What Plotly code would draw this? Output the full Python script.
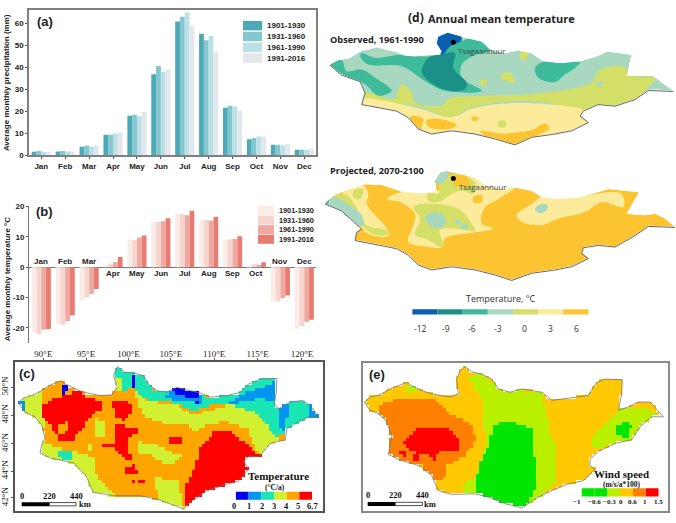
import numpy as np
import plotly.graph_objects as go

W, H = 676, 523
months = ["Jan","Feb","Mar","Apr","May","Jun","Jul","Aug","Sep","Oct","Nov","Dec"]
periods = ["1901-1930","1931-1960","1961-1990","1991-2016"]
precip_1901 = [1.6,1.8,3.9,9.3,18.0,36.8,60.7,55.2,21.6,7.3,4.8,2.5]
precip_1931 = [2.0,2.0,4.5,9.4,18.4,40.5,62.9,52.2,22.5,7.9,4.8,2.5]
precip_1961 = [1.6,1.7,4.0,9.9,17.7,37.8,64.8,54.3,22.2,8.5,4.5,2.5]
precip_1991 = [1.5,1.8,4.5,10.4,19.8,39.0,58.7,47.0,20.3,8.4,5.1,3.0]
temp_1901 = [-21.5,-18.7,-10.8,0.7,9.2,15.0,17.6,15.6,9.0,0.3,-11.5,-20.3]
temp_1931 = [-22.0,-19.0,-10.0,1.2,8.9,15.0,17.5,15.6,9.2,1.0,-11.3,-19.4]
temp_1961 = [-20.6,-17.8,-8.8,1.7,9.8,15.1,17.1,15.4,9.3,0.8,-10.2,-18.0]
temp_1991 = [-20.4,-15.9,-7.2,3.4,10.4,16.1,18.6,16.6,10.2,1.6,-9.3,-17.3]
precip_colors = ["#4BA9B8","#85C6CF","#BBE0E6","#E1E7EB"]
temp_colors = ["#FBECE8","#F6D5D0","#F0A9A1","#E87C72"]

# ---- map (c) temperature trend: outline and class regions, in map units
c_outline = [(55,183),(70,168),(95,160),(120,148),(150,128),(185,115),(195,125),(225,140),(250,150),(300,160),(335,158),(352,135),(340,100),(352,72),(375,90),(405,92),(430,100),(445,125),(470,145),(500,150),(530,135),(570,145),(600,152),(630,165),(680,160),(720,150),(745,125),(780,110),(830,108),(828,150),(822,185),(835,200),(870,180),(905,175),(930,190),(955,225),(925,225),(895,240),(860,260),(855,295),(810,305),(778,345),(745,345),(730,360),(745,385),(715,420),(680,430),(620,450),(570,485),(550,505),(510,490),(470,475),(420,465),(340,465),(280,455),(258,405),(220,365),(150,350),(120,335),(125,310),(135,290),(125,250),(105,225),(75,210),(55,183)]
c_class3 = [
 [(120,290),(150,310),(170,320),(210,325),(240,335),(280,345),(290,400),(330,450),(370,475),(270,475),(110,350)],
 [(470,410),(530,420),(555,510),(480,490),(470,450)],
 [(420,300),(470,310),(510,330),(550,340),(520,370),(480,360),(450,340),(420,340)],
 [(400,135),(440,180),(520,185),(570,215),(630,210),(690,185),(770,210),(800,250),(830,290),(860,300),(778,345),(740,260),(680,240),(620,245),(590,270),(560,250),(470,240),(425,215)],
 [(65,165),(125,150),(130,165),(125,200),(140,260),(120,250),(80,215)],
 [(285,225),(310,240),(315,290),(290,290)],
 [(270,305),(280,305),(280,325),(270,325)],
 [(350,105),(365,105),(365,145),(350,145)],
]
c_class2 = [
 [(330,100),(360,65),(430,90),(460,150),(500,145),(640,165),(640,185),(580,210),(530,185),(470,175),(430,170),(400,140),(370,145),(368,105),(345,105),(345,130)],
 [(640,165),(680,155),(720,145),(745,120),(780,105),(835,105),(825,190),(870,175),(905,170),(960,225),(925,230),(860,265),(830,290),(800,250),(760,210),(700,190),(640,185)],
 [(180,325),(215,325),(220,350),(195,365),(180,350)],
]
c_class1 = [
 [(500,155),(520,135),(605,150),(600,185),(540,175),(500,170)],
 [(680,185),(740,150),(800,130),(835,105),(825,180),(790,170),(740,175),(680,190)],
 [(830,190),(870,180),(860,230),(855,270),(835,250)],
 [(925,190),(945,195),(960,230),(925,222)],
 [(50,183),(75,170),(78,205),(60,205)],
]
c_class0 = [
 [(392,100),(408,100),(405,140),(392,135)],
 [(520,130),(550,130),(605,152),(585,172),(550,160),(520,150)],
 [(182,135),(205,122),(205,150),(185,155)],
 [(205,188),(220,188),(220,200),(205,200)],
 [(165,235),(180,228),(175,245),(165,250)],
 [(590,178),(600,178),(598,190),(590,190)],
]
c_class5 = [
 [(130,190),(170,165),(200,160),(235,140),(260,165),(310,180),(300,205),(270,225),(245,260),(220,295),(185,300),(155,255),(130,225)],
 [(335,175),(385,172),(400,210),(375,235),(345,220)],
 [(345,250),(415,255),(415,275),(385,285),(380,310),(395,355),(375,355),(340,320),(305,320),(310,308),(340,305)],
 [(510,283),(545,285),(545,312),(510,305)],
 [(375,380),(400,370),(420,395),(375,395)],
 [(398,420),(408,420),(408,430),(398,430)],
 [(413,420),(423,420),(423,430),(413,430)],
 [(428,420),(438,420),(438,430),(428,430)],
 [(555,495),(555,440),(590,360),(600,320),(640,270),(690,265),(740,310),(785,345),(745,345),(730,360),(750,385),(715,425),(680,435),(620,455),(570,490)],
]
c_class4 = [
 [(168,255),(200,240),(205,265),(185,282)],
]
c_layers = [(3,c_class3),(2,c_class2),(1,c_class1),(0,c_class0),(5,c_class5),(4,c_class4)]
c_colors = ["#0000F5","#0096F0","#19E6B4","#D2F032","#FFA500","#FF0000"]
c_tick_labels = ["0","1","2","3","4","5","6.7"]

# ---- map (e) wind speed trend
e_outline = [(88,180),(105,165),(135,158),(165,140),(215,120),(230,130),(260,145),(290,155),(345,165),(370,155),(365,110),(375,85),(390,72),(410,88),(440,95),(470,110),(490,140),(525,150),(560,140),(620,150),(650,175),(690,170),(760,160),(785,120),(810,110),(862,112),(860,155),(850,205),(880,195),(910,180),(945,180),(985,225),(950,225),(915,255),(890,295),(845,305),(790,330),(765,355),(765,375),(780,385),(745,420),(700,430),(650,450),(610,470),(575,495),(560,503),(510,490),(460,470),(420,460),(350,462),(310,450),(290,405),(255,375),(190,355),(160,340),(165,310),(170,285),(155,240),(130,215),(105,205),(88,180)]
e_class2 = [
 [(400,100),(440,90),(490,135),(560,145),(620,155),(640,240),(640,270),(660,300),(665,420),(620,475),(570,510),(380,470),(380,430),(420,410),(440,350),(455,300),(445,250),(440,170),(410,130)],
 [(775,280),(850,205),(880,195),(915,200),(945,205),(990,225),(950,230),(890,300),(845,310),(790,320),(770,320)],
 [(215,130),(240,130),(240,155),(220,155)],
]
e_class0 = [
 [(480,250),(515,235),(590,260),(590,320),(605,380),(600,450),(570,505),(510,495),(420,465),(430,380),(460,320),(470,270)],
 [(840,260),(880,235),(890,255),(875,300),(860,280),(840,280)],
]
e_class4 = [
 [(130,210),(140,185),(190,170),(245,165),(300,175),(350,220),(415,250),(420,300),(390,345),(330,375),(330,410),(295,425),(260,375),(190,360),(155,345),(165,310),(170,285),(155,240)],
]
e_class5 = [
 [(205,300),(250,255),(290,265),(330,255),(370,290),(370,325),(310,330),(300,360),(280,345),(240,335),(210,320)],
 [(195,335),(215,335),(215,350),(200,350)],
 [(235,345),(255,345),(255,362),(235,362)],
]
e_layers = [(2,e_class2),(0,e_class0),(4,e_class4),(5,e_class5)]
e_colors = ["#00E600","#00E600","#B9F000","#FFC800","#FF8000","#FF0000"]
e_tick_labels = ["\u22121","\u22120.6","\u22120.3","0","0.6","1","1.5"]

# ---- maps (d): observed and projected temperature zones
d_colors = {-12:"#0B5FB0",-9:"#1A9088",-6:"#3DBB9A",-3:"#A8D8C0",0:"#D4DF68",3:"#FBEB9B",6:"#FDC431"}
d_tick_labels = ["-12","-9","-6","-3","0","3","6"]
obs_outline = [(15,185),(40,172),(75,165),(105,145),(155,133),(215,148),(240,158),(270,160),(320,155),(345,155),(350,145),(335,120),(340,100),(368,88),(400,98),(430,105),(470,115),(495,140),(540,150),(580,142),(620,150),(655,175),(700,180),(765,175),(815,160),(845,145),(920,155),(905,220),(950,220),(985,220),(1010,240),(1045,265),(1000,262),(970,262),(930,290),(870,310),(820,305),(775,325),(765,340),(790,360),(740,385),(690,395),(620,405),(570,428),(510,410),(450,395),(380,385),(320,395),(280,380),(250,345),(215,325),(110,305),(120,270),(105,235),(50,215),(15,185)]
obs_zones = [
 (0,[(230,245),(260,270),(270,300),(350,310),(370,290),(470,280),(620,275),(800,240),(820,205),(890,190),(925,220),(990,225),(960,265),(930,295),(870,315),(770,325),(660,300),(520,300),(430,320),(380,345),(270,310),(100,295),(110,270),(210,290),(220,260)]),
 (3,[(100,290),(270,315),(380,345),(440,320),(520,305),(660,305),(775,325),(770,340),(800,365),(740,395),(620,415),(570,440),(380,395),(320,405),(280,390),(240,345),(100,310)]),
 (6,[(255,345),(295,350),(290,382),(325,400),(275,390)]),
 (6,[(305,355),(350,352),(395,370),(370,382),(310,375)]),
 (6,[(465,388),(530,395),(620,385),(660,365),(672,380),(640,400),(570,435),(500,415)]),
 (6,[(441,345),(459,345),(459,355),(441,355)]),
 (0,[(520,358),(542,358),(542,375),(520,375)]),
 (0,[(465,235),(485,230),(485,245),(465,245)]),
 (0,[(530,215),(555,210),(570,240),(545,235),(530,230)]),
 (0,[(585,145),(610,145),(600,172),(590,170)]),
 (-6,[(108,150),(155,165),(220,155),(310,160),(345,150),(390,120),(440,105),(475,112),(495,140),(440,160),(410,185),(410,225),(470,265),(360,265),(300,235),(230,190),(130,185),(108,165)]),
 (-6,[(10,185),(50,172),(65,205),(110,200),(150,225),(200,265),(160,280),(120,245),(60,218)]),
 (-6,[(630,195),(660,175),(700,180),(765,178),(750,195),(720,215),(690,238),(640,225)]),
 (-3,[(130,130),(155,130),(220,146),(200,158),(150,155)]),
 (-3,[(815,240),(835,238),(830,250),(815,248)]),
 (-9,[(310,165),(345,155),(390,150),(385,195),(425,240),(420,260),(360,262),(300,225),(290,205)]),
 (-12,[(330,120),(335,95),(368,85),(405,95),(410,110),(375,130),(352,155),(345,150)]),
]
proj_outline = [(0,128),(25,105),(60,90),(120,70),(170,72),(235,95),(290,98),(335,95),(330,60),(345,35),(365,30),(400,38),(450,50),(480,75),(530,85),(570,80),(620,90),(650,110),(700,115),(770,110),(815,95),(850,85),(942,95),(905,160),(960,165),(990,160),(1020,175),(1050,200),(1000,198),(970,197),(930,225),(870,260),(820,255),(775,262),(770,280),(790,295),(740,320),(690,330),(620,340),(560,362),(510,345),(450,330),(380,320),(320,330),(280,315),(250,285),(215,265),(90,240),(95,215),(110,205),(50,150),(0,128)]
proj_zones = [
 (3,[(185,115),(235,92),(335,92),(380,55),(450,45),(485,75),(570,78),(520,115),(480,140),(470,190),(505,205),(430,220),(360,235),(350,262),(300,260),(250,245),(265,195),(270,160),(225,125)]),
 (3,[(575,165),(620,130),(650,108),(770,108),(850,95),(890,100),(895,140),(830,125),(780,155),(700,175),(650,195),(590,185)]),
 (3,[(55,95),(110,72),(130,100),(125,130),(185,205),(190,228),(130,222),(90,175),(50,130)]),
 (0,[(85,90),(115,85),(105,115),(85,110)]),
 (0,[(15,115),(60,100),(85,125),(125,195),(185,210),(190,222),(150,225),(115,200),(60,140)]),
 (0,[(265,140),(300,130),(400,145),(440,190),(450,212),(390,205),(345,210),(355,262),(300,235),(270,225),(285,175)]),
 (0,[(310,95),(340,100),(345,55),(370,45),(400,38),(450,65),(445,100),(410,90),(380,100),(340,125),(310,120)]),
 (6,[(385,50),(420,42),(435,75),(405,78),(385,70)]),
 (6,[(445,108),(470,105),(470,125),(445,125)]),
 (-3,[(325,60),(340,32),(372,28),(370,45),(345,70)]),
 (-3,[(300,170),(330,155),(360,170),(360,195),(330,205),(305,185)]),
 (-3,[(390,180),(405,180),(405,190),(390,190)]),
 (-3,[(405,195),(425,190),(425,205),(408,205)]),
 (-3,[(630,145),(650,130),(668,135),(665,150),(640,158)]),
 (-3,[(0,135),(30,110),(60,125),(110,165),(115,195),(95,195),(50,155)]),
 (-6,[(-5,115),(12,115),(8,130),(-5,135)]),
]
site_name = "Tsagaannuur"

# ---- helpers
fig = go.Figure()
layout = {}
SANS, SERIF = "Liberation Sans", "Liberation Serif"
ann, shp = [], []

def make_axes(n, px, py, xr, yr, **kw):
    """Create axis pair n covering the given pixel box."""
    xn, yn = ("x%d" % n if n > 1 else "x"), ("y%d" % n if n > 1 else "y")
    xk, yk = xn.replace("x", "xaxis"), yn.replace("y", "yaxis")
    base = dict(showgrid=False, zeroline=False, showticklabels=False, ticks="", showline=False, fixedrange=True)
    layout[xk] = {**base, "domain": [px[0]/W, px[1]/W], "range": xr, "anchor": yn, **kw.get("x", {})}
    layout[yk] = {**base, "domain": [1-py[1]/H, 1-py[0]/H], "range": yr, "anchor": xn, **kw.get("y", {})}
    return xn, yn

def text(t, x, y, xr="paper", yr="paper", size=8, color="#222", bold=True, font=SANS, anchor="center", angle=0):
    if xr == "paper":
        x, y = x/W, 1-y/H
    ann.append(dict(text=("<b>%s</b>" % t) if bold else t, x=x, y=y, xref=xr, yref=yr, showarrow=False,
                    xanchor=anchor, yanchor="middle", textangle=angle,
                    font=dict(size=size, color=color, family=font)))

def rect(x0, y0, x1, y1, color, xr="paper", yr="paper", line=None, below=False):
    if xr == "paper":
        x0, x1, y0, y1 = x0/W, x1/W, 1-y0/H, 1-y1/H
    shp.append(dict(type="rect", x0=x0, x1=x1, y0=y0, y1=y1, xref=xr, yref=yr, fillcolor=color,
                    line=dict(width=0.8 if line else 0, color=line or color), layer="below" if below else "above"))

def raster(outline, base, layers, xr, yr, step=10):
    xs = np.arange(xr[0]+step/2, xr[1], step)
    ys = np.arange(min(yr)+step/2, max(yr), step)
    gx, gy = np.meshgrid(xs, ys)
    def inside(poly):
        p = np.array(poly, float)
        res = np.zeros(gx.shape, bool)
        for (x0, y0), (x1, y1) in zip(p, np.roll(p, -1, axis=0)):
            if y0 == y1:
                continue
            cond = (y0 > gy) != (y1 > gy)
            res ^= cond & (gx < (x1-x0)*(gy-y0)/(y1-y0)+x0)
        return res
    z = np.full(gx.shape, float(base))
    for cls, polys in layers:
        for poly in polys:
            z[inside(poly)] = cls
    z[~inside(outline)] = np.nan
    return xs, ys, z

def poly_xy(poly):
    return [p[0] for p in poly]+[poly[0][0]], [p[1] for p in poly]+[poly[0][1]]

# ---- (a)
xa, ya = make_axes(1, (29,316), (6,154), [-0.515,11.49], [0,66], x=dict(
    showline=True, mirror=True, linecolor="#7F7F7F", linewidth=1.5, showticklabels=True, tickmode="array",
    tickvals=list(range(12)), ticktext=["<b>%s</b>" % m for m in months], ticks="outside", ticklen=2, tickcolor="#555",
    tickfont=dict(size=8, family=SANS, color="#222")),
    y=dict(showline=True, mirror=True, linecolor="#7F7F7F", linewidth=1.5, showticklabels=True, tickvals=[0,10,20,30,40,50,60],
    ticktext=["<b>%d</b>" % v for v in range(0,61,10)], ticks="outside", ticklen=2, tickcolor="#555",
    tickfont=dict(size=8, family=SANS, color="#222")))
for name, vals, col in zip(periods, [precip_1901,precip_1931,precip_1961,precip_1991], precip_colors):
    fig.add_bar(x=list(range(12)), y=vals, name=name, marker=dict(color=col, line_width=0), xaxis=xa, yaxis=ya, showlegend=False)
for i, (name, col) in enumerate(zip(periods, precip_colors)):
    yc = 22+11*i
    rect(243, yc-4.8, 262, yc+4.8, col)
    text(name, 265, yc, size=8, anchor="left")
text("(a)", 45, 18, size=13)
text("Average monthly precipitation (mm)", 6.5, 80, size=8, angle=-90)

# ---- (b)
xb, yb = make_axes(2, (29,316), (206,345), [-0.515,11.49], [-25,20], x=dict(
    showline=False), y=dict(showline=True, linecolor="#777", linewidth=1, showticklabels=True, tickvals=[-20,-10,0,10,20],
    ticktext=["<b>%d</b>" % v for v in [-20,-10,0,10,20]], ticks="outside", ticklen=2, tickcolor="#555",
    tickfont=dict(size=8, family=SANS, color="#222"), zeroline=True, zerolinecolor="#777", zerolinewidth=1))
for name, vals, col in zip(periods, [temp_1901,temp_1931,temp_1961,temp_1991], temp_colors):
    fig.add_bar(x=list(range(12)), y=vals, name=name, marker=dict(color=col, line_width=0), xaxis=xb, yaxis=yb, showlegend=False)
for i, (name, col) in enumerate(zip(periods, temp_colors)):
    yc = 210+9.8*i
    rect(258, yc-4.6, 274, yc+4.6, col)
    text(name, 277, yc, size=7.3, anchor="left")
for i, m in enumerate(months):
    neg = temp_1991[i] < 0
    text(m, i, 1.8 if neg else -2.1, xr=xb, yr=yb, size=8)
text("(b)", 44, 211, size=13)
text("Average monthly temperature \u00b0C", 7, 280, size=8, angle=-90)

# ---- stepped colour scale helper
def stepped(cols):
    n = len(cols); cs = []
    for i, c in enumerate(cols):
        cs += [[i/n, c], [(i+1)/n, c]]
    return cs

# ---- (c)
crx, cry = [45,968], [512,57]
xc, yc_ = make_axes(3, (15,323), (364,516), crx, cry,
    x=dict(showline=True, mirror=True, linecolor="#555", linewidth=1.5, side="top", showticklabels=True,
           tickvals=[130,258,385,512,642,772,905], ticktext=["%d\u00b0E" % v for v in range(90,121,5)],
           ticks="outside", ticklen=2, tickcolor="#555", ticklabelstandoff=-3, tickfont=dict(size=9, family=SERIF, color="#222")),
    y=dict(showline=True, mirror=True, linecolor="#555", linewidth=1.5, showticklabels=True,
           tickvals=[135,220,307,390,472], ticktext=["%d\u00b0N" % v for v in [50,48,46,44,42]], tickangle=-90,
           ticks="outside", ticklen=2, tickcolor="#555", tickfont=dict(size=9, family=SERIF, color="#222")))
gx, gy, gz = raster(c_outline, 4, c_layers, crx, cry)
fig.add_heatmap(x=gx, y=gy, z=gz, zmin=-0.5, zmax=5.5, colorscale=stepped(c_colors), showscale=False, xaxis=xc, yaxis=yc_, hoverinfo="skip")
ox, oy = poly_xy(c_outline)
fig.add_scatter(x=ox, y=oy, mode="lines", line=dict(color="#777", width=0.8), xaxis=xc, yaxis=yc_, showlegend=False, hoverinfo="skip")
text("(c)", 81, 92, xr=xc, yr=yc_, size=13)
for i, col in enumerate(c_colors):
    rect(707+38*i, 453, 745+38*i, 477, col, xr=xc, yr=yc_)
for t, x in zip(c_tick_labels, [700,745,785,820,858,893,938]):
    text(t, x, 495, xr=xc, yr=yc_, size=8.5, font=SERIF, color="#111")
text("Temperature", 835, 405, xr=xc, yr=yc_, size=11, font=SERIF, color="#111")
text("(\u00b0C/a)", 825, 439, xr=xc, yr=yc_, size=7.5, font=SERIF, color="#111")
rect(65, 485, 148, 497, "#000", xr=xc, yr=yc_)
rect(148, 486, 228, 496, "#fff", xr=xc, yr=yc_, line="#222")
for t, x in zip(["0","220","440"], [65,148,228]):
    text(t, x, 466, xr=xc, yr=yc_, size=8.5, font=SERIF, color="#111")
text("km", 254, 490, xr=xc, yr=yc_, size=8.5, font=SERIF, color="#111")

# ---- (e)
erx, ery = [83,998], [512,60]
xe, ye = make_axes(4, (362.7,667.7), (365,515.7), erx, ery,
    x=dict(showline=True, mirror=True, linecolor="#8A8A8A", linewidth=1.5),
    y=dict(showline=True, mirror=True, linecolor="#8A8A8A", linewidth=1.5))
gx, gy, gz = raster(e_outline, 3, e_layers, erx, ery)
fig.add_heatmap(x=gx, y=gy, z=gz, zmin=-0.5, zmax=5.5, colorscale=stepped(e_colors), showscale=False, xaxis=xe, yaxis=ye, hoverinfo="skip")
ox, oy = poly_xy(e_outline)
fig.add_scatter(x=ox, y=oy, mode="lines", line=dict(color="#777", width=0.8), xaxis=xe, yaxis=ye, showlegend=False, hoverinfo="skip")
text("(e)", 125, 95, xr=xe, yr=ye, size=13)
for i, col in enumerate(e_colors):
    rect(740+38.4*i, 443, 778.4+38.4*i, 468, col, xr=xe, yr=ye)
for t, x in zip(e_tick_labels, [725,778,823,858,892,930,970]):
    text(t, x, 485, xr=xe, yr=ye, size=7, font=SERIF, color="#111")
text("Wind speed", 860, 400, xr=xe, yr=ye, size=11, font=SERIF, color="#111")
text("(m/s/a*100)", 860, 433, xr=xe, yr=ye, size=7.5, font=SERIF, color="#111")
rect(98, 485, 181, 497, "#000", xr=xe, yr=ye)
rect(181, 486, 262, 496, "#fff", xr=xe, yr=ye, line="#222")
for t, x in zip(["0","220","440"], [98,180,262]):
    text(t, x, 465, xr=xe, yr=ye, size=8.5, font=SERIF, color="#111")
text("km", 285, 490, xr=xe, yr=ye, size=8.5, font=SERIF, color="#111")

# ---- (d) maps
def zone_map(xn, yn, outline, zones, base, xr, yr):
    ox, oy = poly_xy(outline)
    fig.add_scatter(x=ox, y=oy, mode="lines", fill="toself", fillcolor=d_colors[base], line=dict(width=0),
                    xaxis=xn, yaxis=yn, showlegend=False, hoverinfo="skip")
    for val, poly in zones:
        px, py = poly_xy(poly)
        fig.add_scatter(x=px, y=py, mode="lines", fill="toself", fillcolor=d_colors[val],
                        line=dict(width=0, shape="spline", smoothing=1), xaxis=xn, yaxis=yn, showlegend=False, hoverinfo="skip")
    # white surround hides whatever runs past the border
    mx = [xr[0],xr[1],xr[1],xr[0],xr[0]]+ox+[xr[0]]
    my = [yr[0],yr[0],yr[1],yr[1],yr[0]]+oy+[yr[0]]
    fig.add_scatter(x=mx, y=my, mode="lines", fill="toself", fillcolor="#fff", line=dict(width=0),
                    xaxis=xn, yaxis=yn, showlegend=False, hoverinfo="skip")
    # drop shadow along the southern edge
    south = outline[outline.index(max(outline, key=lambda p: p[0])):]
    fig.add_scatter(x=[p[0] for p in south], y=[p[1]+2 for p in south], mode="lines", line=dict(color="#666", width=1),
                    xaxis=xn, yaxis=yn, showlegend=False, hoverinfo="skip")

o_rx, o_ry = [0,1053], [445,0]
xo, yo = make_axes(5, (325,676), (0,445/3), o_rx, o_ry)
zone_map(xo, yo, obs_outline, obs_zones, -3, o_rx, o_ry)
fig.add_scatter(x=[385], y=[117], mode="markers", marker=dict(color="#000", size=5), xaxis=xo, yaxis=yo, showlegend=False, hoverinfo="skip")
text(site_name, 470, 142, xr=xo, yr=yo, size=7.8, bold=False, font="Open Sans", color="#444")
text("(d)", 272, 42, xr=xo, yr=yo, size=12, font="Open Sans", color="#222")
text("Annual mean temperature", 528, 45, xr=xo, yr=yo, size=11, font="Open Sans", color="#222")
text("Observed, 1961-1990", 155, 107, xr=xo, yr=yo, size=9.2, font="Open Sans", color="#222")

p_rx, p_ry = [0,1053], [580,0]
xp, yp = make_axes(6, (325,676), (160,160+580/3), p_rx, p_ry)
zone_map(xp, yp, proj_outline, proj_zones, 6, p_rx, p_ry)
fig.add_scatter(x=[385], y=[53], mode="markers", marker=dict(color="#000", size=5), xaxis=xp, yaxis=yp, showlegend=False, hoverinfo="skip")
text(site_name, 473, 80, xr=xp, yr=yp, size=7.8, bold=False, font="Open Sans", color="#444")
text("Projected, 2070-2100", 155, 28, xr=xp, yr=yp, size=9.2, font="Open Sans", color="#222")
text("Temperature, \u00b0C", 527, 420, xr=xp, yr=yp, size=9, bold=False, font="Open Sans", color="#333")
for i, col in enumerate(d_colors.values()):
    rect(262+75.5*i, 452, 337.5+75.5*i, 468, col, xr=xp, yr=yp)
for t, x in zip(d_tick_labels, [285,363,442,520,598,677,754]):
    text(t, x, 510, xr=xp, yr=yp, size=8.5, bold=False, font="Open Sans", color="#333")

fig.update_layout(width=W, height=H, autosize=False, margin=dict(l=0,r=0,t=0,b=0), paper_bgcolor="#fff", plot_bgcolor="rgba(0,0,0,0)",
                  barmode="group", bargap=0.2, bargroupgap=0, showlegend=False, annotations=ann, shapes=shp, **layout)
fig.write_html("out.html", config=dict(displayModeBar=False),
               post_script="document.body.style.margin='0';document.documentElement.style.overflow='hidden';")
